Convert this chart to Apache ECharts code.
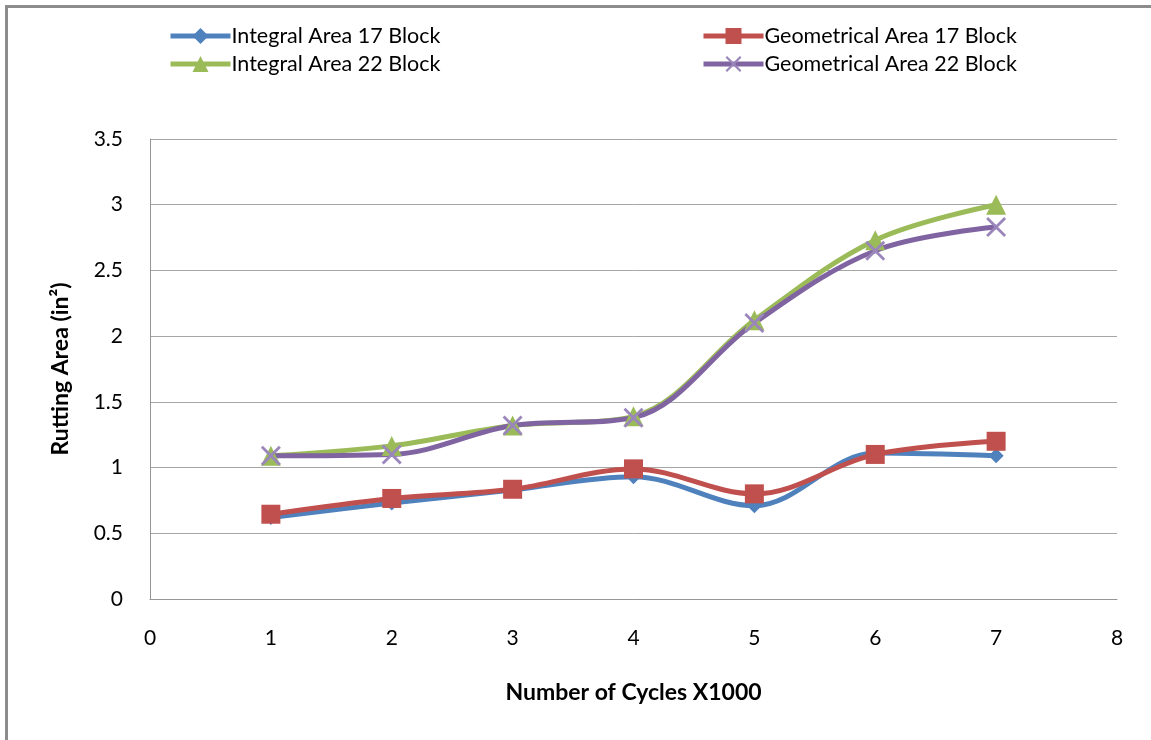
<!DOCTYPE html>
<html>
<head>
<meta charset="utf-8">
<script src="https://cdn.jsdelivr.net/npm/echarts@6/dist/echarts.min.js"></script>
<style>
  html, body { margin: 0; padding: 0; background: #ffffff; }
  #chart { width: 1151px; height: 740px; }
</style>
</head>
<body>
<div id="chart"></div>
<script>
// Rutting area vs. load cycles for the two block configurations
const cycles = [1, 2, 3, 4, 5, 6, 7];
const integral17 = [0.62, 0.73, 0.83, 0.93, 0.71, 1.11, 1.09];
const geometrical17 = [0.645, 0.765, 0.835, 0.99, 0.80, 1.10, 1.20];
const integral22 = [1.09, 1.165, 1.32, 1.39, 2.12, 2.73, 3.00];
const geometrical22 = [1.09, 1.10, 1.32, 1.38, 2.10, 2.65, 2.83];
const xTicks = [0, 1, 2, 3, 4, 5, 6, 7, 8];
const yTicks = [0, 0.5, 1, 1.5, 2, 2.5, 3, 3.5];

const FONT = 'Lato, "Open Sans", sans-serif';
const crossPath = 'path://M0,1 L1,0 L10,9 L9,10 Z M9,0 L10,1 L1,10 L0,9 Z';

function pairs(vals) {
  return cycles.map((c, i) => [c, vals[i]]);
}

function makeSeries(name, vals, color, symbol, size, markColor) {
  return {
    name: name,
    type: 'line',
    data: pairs(vals),
    smooth: 0.35,
    symbol: symbol,
    symbolSize: size,
    lineStyle: { color: color, width: 5 },
    itemStyle: { color: markColor || color },
    emphasis: { disabled: true },
    animation: false
  };
}

const legendCommon = {
  orient: 'vertical',
  top: 20,
  itemWidth: 60, itemHeight: 20, itemGap: 6,
  lineStyle: { width: 5 },
  textStyle: { fontFamily: FONT, fontSize: 21.5, color: '#000', padding: [0, 0, 0, -4] }
};

const chart = echarts.init(document.getElementById('chart'));
chart.setOption({
  backgroundColor: '#ffffff',
  animation: false,
  textStyle: { fontFamily: FONT },
  graphic: [
    { type: 'rect', shape: { x: 5, y: 5, width: 1146, height: 3 }, style: { fill: '#8c8c8c' }, silent: true },
    { type: 'rect', shape: { x: 5, y: 5, width: 3, height: 735 }, style: { fill: '#8c8c8c' }, silent: true }
  ],
  legend: [
    Object.assign({ data: ['Integral Area 17 Block', 'Integral Area 22 Block'], left: 163 }, legendCommon),
    Object.assign({ data: ['Geometrical Area 17 Block', 'Geometrical Area 22 Block'], left: 696 }, legendCommon)
  ],
  grid: { left: 150, right: 34, top: 139, bottom: 141, containLabel: false },
  xAxis: {
    type: 'value',
    min: xTicks[0], max: xTicks[xTicks.length - 1], interval: 1,
    name: 'Number of Cycles X1000',
    nameLocation: 'middle', nameGap: 82,
    nameTextStyle: { fontFamily: FONT, fontSize: 23, fontWeight: 'bold', color: '#000' },
    axisLine: { show: true, lineStyle: { color: '#969696', width: 1 } },
    axisTick: { show: false },
    axisLabel: { fontFamily: FONT, fontSize: 21, color: '#000', margin: 29 },
    splitLine: { show: false }
  },
  yAxis: {
    type: 'value',
    min: yTicks[0], max: yTicks[yTicks.length - 1], interval: 0.5,
    name: 'Rutting Area (in²)',
    nameLocation: 'middle', nameGap: 78,
    nameTextStyle: { fontFamily: FONT, fontSize: 23, fontWeight: 'bold', color: '#000' },
    axisLine: { show: true, lineStyle: { color: '#969696', width: 1 } },
    axisTick: { show: false },
    axisLabel: { fontFamily: FONT, fontSize: 21, color: '#000', margin: 27 },
    splitLine: { show: true, lineStyle: { color: '#a6a6a6', width: 1 } }
  },
  series: [
    makeSeries('Integral Area 17 Block', integral17, '#4F81BD', 'diamond', 15),
    makeSeries('Geometrical Area 17 Block', geometrical17, '#C0504D', 'rect', 19),
    makeSeries('Integral Area 22 Block', integral22, '#9BBB59', 'triangle', 20),
    makeSeries('Geometrical Area 22 Block', geometrical22, '#8064A2', crossPath, 20, '#9a86bb')
  ]
});
</script>
</body>
</html>
